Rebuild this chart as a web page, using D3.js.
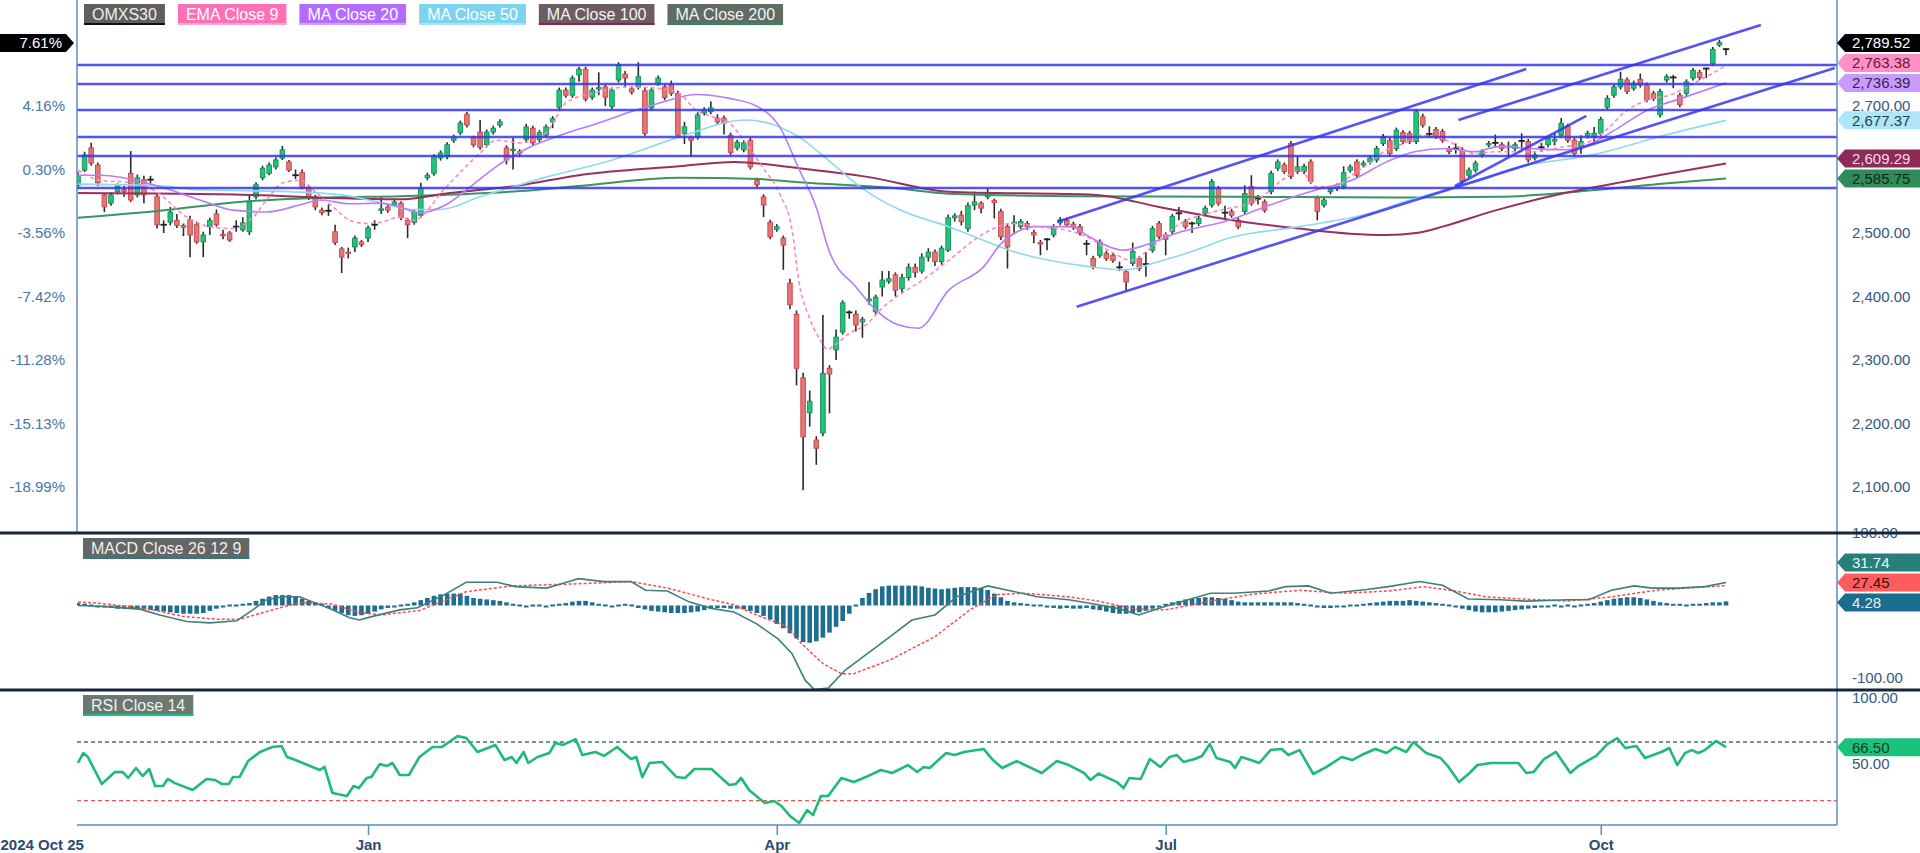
<!DOCTYPE html>
<html>
<head>
<meta charset="utf-8">
<script src="https://cdn.jsdelivr.net/npm/d3@7"></script>
<style>
  body { margin: 0; background: #fff; }
  svg { display: block; font-family: "Liberation Sans", Arial, sans-serif; }
</style>
</head>
<body>
<div id="chart"></div>
<script>
// ---- OMXS30 daily candles, 2024-10-25 .. 2025-10 (index = trading day) ----
const opens = [
  2575,2599,2634,2607,2560,2547,2565,2568,2594,2560,
  2584,2583,2557,2514,2517,2520,2512,2521,2513,2486,
  2510,2530,2498,2500,2509,2505,2502,2557,2587,2594,
  2604,2618,2612,2592,2595,2572,2557,2536,2536,2502,
  2475,2470,2478,2486,2492,2512,2536,2541,2545,2547,
  2520,2517,2528,2587,2594,2618,2620,2646,2658,2687,
  2650,2659,2639,2659,2670,2634,2630,2628,2647,2665,
  2647,2654,2675,2698,2725,2717,2749,2758,2714,2727,
  2730,2699,2741,2750,2727,2730,2724,2697,2736,2730,
  2733,2720,2657,2650,2651,2689,2691,2681,2681,2654,
  2634,2631,2646,2583,2557,2517,2506,2492,2421,2372,
  2272,2217,2174,2185,2287,2316,2344,2374,2372,2360,
  2393,2376,2415,2424,2434,2412,2430,2446,2440,2462,
  2470,2455,2473,2524,2528,2507,2544,2547,2557,2551,
  2534,2510,2515,2510,2515,2501,2485,2490,2497,2516,
  2520,2514,2510,2484,2460,2465,2468,2465,2447,2439,
  2452,2460,2450,2473,2515,2497,2502,2530,2518,2516,
  2515,2531,2544,2570,2531,2534,2520,2534,2573,2553,
  2549,2565,2602,2607,2641,2597,2597,2612,2555,2544,
  2565,2570,2573,2599,2612,2607,2612,2615,2641,2646,
  2633,2658,2657,2644,2683,2657,2663,2660,2633,2634,
  2631,2591,2599,2623,2639,2641,2639,2636,2633,2644,
  2644,2618,2636,2639,2645,2654,2668,2646,2636,2653,
  2652,2657,2698,2717,2730,2741,2728,2742,2733,2720,
  2686,2741,2745,2717,2720,2744,2753,2758,2767,2796,
  2789
];
const highs = [
  2596,2628,2642,2611,2563,2564,2578,2574,2629,2592,
  2590,2590,2561,2520,2541,2530,2515,2527,2518,2502,
  2524,2537,2505,2503,2520,2525,2560,2580,2606,2611,
  2619,2637,2615,2600,2600,2575,2560,2540,2545,2513,
  2478,2477,2496,2489,2512,2520,2557,2545,2553,2550,
  2524,2537,2579,2595,2624,2630,2643,2655,2677,2691,
  2653,2678,2663,2669,2679,2638,2650,2632,2672,2669,
  2662,2671,2684,2729,2729,2748,2762,2762,2729,2753,
  2734,2729,2769,2755,2731,2769,2728,2729,2748,2734,
  2740,2724,2675,2653,2690,2698,2707,2687,2685,2658,
  2647,2646,2650,2587,2561,2521,2514,2496,2428,2378,
  2280,2252,2180,2371,2292,2348,2394,2378,2378,2368,
  2423,2403,2440,2440,2438,2436,2452,2452,2468,2476,
  2474,2480,2529,2531,2535,2548,2565,2550,2570,2554,
  2538,2514,2528,2522,2519,2505,2489,2492,2514,2525,
  2524,2518,2514,2489,2464,2490,2472,2469,2455,2443,
  2485,2464,2470,2511,2519,2501,2530,2541,2522,2518,
  2527,2543,2585,2574,2543,2538,2524,2575,2591,2560,
  2553,2598,2616,2611,2645,2621,2609,2616,2559,2556,
  2573,2578,2605,2608,2616,2614,2622,2637,2656,2650,
  2666,2662,2661,2695,2688,2668,2667,2664,2637,2641,
  2635,2603,2614,2632,2645,2655,2643,2644,2643,2657,
  2648,2627,2642,2653,2657,2681,2672,2650,2654,2661,
  2667,2683,2717,2734,2754,2745,2740,2751,2737,2724,
  2727,2750,2749,2721,2742,2760,2757,2760,2793,2804,
  2791
];
const lows = [
  2570,2596,2606,2574,2533,2543,2561,2557,2549,2556,
  2547,2578,2507,2500,2512,2508,2495,2462,2483,2462,
  2497,2510,2490,2486,2502,2502,2497,2553,2583,2591,
  2600,2615,2596,2585,2569,2552,2536,2528,2527,2481,
  2437,2460,2470,2478,2486,2505,2530,2532,2541,2520,
  2492,2513,2524,2583,2590,2614,2616,2642,2654,2666,
  2635,2631,2635,2655,2666,2608,2600,2620,2643,2638,
  2643,2650,2665,2694,2713,2713,2738,2707,2710,2717,
  2700,2695,2737,2730,2718,2726,2653,2693,2732,2709,
  2716,2650,2640,2620,2647,2685,2687,2671,2655,2623,
  2630,2627,2600,2572,2525,2490,2502,2442,2380,2260,
  2095,2195,2135,2180,2216,2300,2340,2365,2345,2335,
  2387,2372,2400,2420,2400,2405,2425,2430,2436,2455,
  2448,2450,2470,2518,2512,2502,2536,2531,2553,2523,
  2489,2444,2500,2506,2505,2484,2465,2473,2493,2512,
  2509,2505,2496,2465,2443,2461,2456,2453,2440,2410,
  2448,2440,2431,2469,2490,2465,2498,2520,2506,2500,
  2511,2527,2540,2543,2520,2524,2506,2530,2543,2545,
  2532,2561,2598,2593,2585,2593,2593,2577,2520,2540,
  2561,2566,2569,2595,2587,2603,2608,2611,2637,2621,
  2629,2640,2640,2640,2666,2650,2648,2642,2624,2625,
  2577,2587,2595,2619,2635,2636,2629,2620,2629,2631,
  2611,2614,2628,2635,2638,2650,2642,2621,2625,2649,
  2641,2653,2694,2713,2726,2719,2724,2729,2706,2708,
  2682,2737,2728,2698,2716,2740,2741,2744,2763,2793,
  2780
];
const closes = [
  2591,2623,2610,2579,2541,2560,2574,2566,2552,2587,
  2560,2584,2513,2513,2533,2512,2509,2497,2486,2497,
  2520,2513,2496,2489,2510,2516,2549,2576,2602,2607,
  2615,2631,2599,2591,2572,2557,2541,2532,2535,2485,
  2462,2468,2492,2482,2508,2513,2538,2536,2549,2524,
  2513,2533,2571,2591,2620,2626,2639,2651,2673,2670,
  2639,2635,2659,2665,2675,2615,2632,2626,2667,2642,
  2658,2667,2680,2725,2717,2744,2758,2711,2725,2729,
  2714,2725,2765,2744,2722,2746,2657,2725,2744,2713,
  2720,2654,2667,2646,2686,2694,2697,2675,2673,2627,
  2643,2642,2604,2576,2544,2494,2510,2481,2387,2287,
  2179,2235,2161,2279,2278,2336,2390,2375,2355,2364,
  2396,2399,2426,2428,2410,2430,2446,2438,2462,2470,
  2455,2476,2524,2527,2518,2543,2549,2539,2562,2548,
  2494,2478,2517,2518,2510,2497,2483,2490,2510,2521,
  2513,2509,2500,2483,2447,2486,2460,2457,2446,2423,
  2471,2444,2451,2507,2494,2490,2526,2531,2510,2515,
  2523,2539,2581,2547,2532,2528,2510,2562,2547,2554,
  2536,2594,2612,2597,2589,2604,2605,2581,2534,2552,
  2569,2574,2595,2604,2591,2610,2618,2633,2652,2625,
  2662,2644,2644,2691,2670,2656,2652,2646,2628,2633,
  2581,2599,2610,2628,2641,2642,2633,2636,2639,2645,
  2615,2623,2635,2649,2647,2673,2646,2625,2644,2657,
  2657,2679,2712,2730,2742,2723,2736,2733,2710,2712,
  2723,2746,2745,2702,2738,2756,2745,2759,2789,2800,
  2789.52
];

// x-axis labels (trading-day index)
const tickIdx = [0, 44, 106, 165, 231];
const tickText = ["2024 Oct 25", "Jan", "Apr", "Jul", "Oct"];

// price axis
const priceTicks = [2100, 2200, 2300, 2400, 2500, 2600, 2700];
const pctLabels = ["-18.99%", "-15.13%", "-11.28%", "-7.42%", "-3.56%", "0.30%", "4.16%"];
const rightTicks = [2100, 2200, 2300, 2400, 2500, 2700];   // 2,600 sits under the badges
const lastPct = "7.61%";

// moving averages: [index, value]
const ema9 = [[0,2599],[3.3,2583],[8.4,2579],[11.9,2565],[16.5,2525],[20.5,2509],[23.5,2507],[26.6,2525],[28.6,2552],[31.1,2579],[33.6,2583],[36.2,2563],[38.7,2541],[41.2,2520],[43.7,2515],[46,2517],[48.8,2525],[50.8,2520],[55.9,2573],[61,2626],[63.4,2646],[67,2642],[71,2658],[74,2705],[78.1,2720],[83.6,2730],[88.7,2727],[91.2,2720],[93.7,2694],[96.3,2683],[98.8,2673],[101.3,2642],[103.8,2604],[106.4,2563],[108.4,2500],[109.4,2421],[110.9,2368],[112.4,2335],[113.7,2317],[114.9,2324],[117,2342],[119.5,2355],[122,2382],[124.5,2402],[128,2425],[132.1,2457],[137.4,2499],[141.7,2515],[145.4,2510],[149.7,2505],[153.4,2492],[157.1,2468],[159.8,2457],[162.9,2478],[167.2,2515],[171.4,2531],[174.6,2539],[177.8,2547],[180,2560],[182.6,2583],[185.3,2599],[187.9,2573],[190.6,2573],[193.2,2591],[195.9,2610],[198.5,2631],[201.2,2641],[203.9,2654],[207.6,2646],[211.8,2625],[215,2628],[220.5,2628],[225.6,2636],[228.6,2641],[232.1,2665],[234.6,2690],[238.2,2710],[241.7,2718],[243.7,2728],[246.8,2745],[250,2763.38]];
const ma20 = [[0,2591],[3.4,2591],[11.4,2576],[18.5,2552],[23.5,2536],[28.6,2533],[33.6,2544],[36.7,2552],[41.2,2546],[45.8,2547],[48.8,2541],[51.8,2532],[55.9,2545],[59.8,2575],[63.5,2605],[68.5,2635],[73.5,2655],[78.6,2672],[83.6,2690],[88.6,2706],[93.8,2718],[98.8,2712],[102.9,2700],[106.4,2668],[109.4,2600],[112,2540],[113.9,2473],[118,2415],[121,2379],[124.5,2355],[127.5,2350],[132.1,2410],[137.4,2447],[140.1,2484],[145.4,2510],[150.7,2510],[153.4,2494],[158.7,2473],[161.9,2481],[166.7,2500],[174.6,2520],[180,2541],[185.3,2560],[187.9,2568],[193.2,2583],[198.5,2612],[202.8,2628],[207.6,2633],[211.8,2628],[215.5,2636],[220.5,2633],[225.6,2631],[229.6,2641],[233.1,2662],[238.2,2694],[243.2,2712],[250,2736.39]];
const ma50 = [[0,2577],[11.4,2575],[18.5,2568],[32.1,2565],[40,2560],[45.8,2548],[50.8,2537],[55,2537],[61,2557],[71,2588],[81.1,2615],[91.2,2651],[101.3,2678],[106.4,2667],[109.4,2651],[113,2622],[119,2570],[125,2535],[132.1,2510],[142.8,2468],[153.4,2447],[158.7,2442],[164,2455],[169.3,2472],[174.6,2492],[185.3,2510],[195.9,2531],[201.2,2549],[209.2,2573],[214.5,2589],[215.5,2594],[230.6,2625],[240.7,2654],[250,2677.37]];
const ma100 = [[0,2563],[26.1,2560],[38.2,2555],[48.8,2553],[56.4,2563],[67,2575],[76,2591],[91.2,2605],[99.5,2612],[109.4,2602],[120,2588],[132.1,2565],[154.4,2560],[164,2541],[174.6,2521],[185.3,2507],[193,2499],[198.5,2497],[203,2500],[207,2510],[214.5,2534],[223,2557],[235.7,2583],[250,2609.29]];
const ma200 = [[0,2524],[12.4,2535],[24.5,2549],[38.2,2556],[48.8,2558],[67,2566],[76,2574],[91.2,2587],[103.3,2585],[109.4,2580],[124.5,2570],[132,2562],[150,2558],[175,2557],[200,2556],[215.5,2557],[230.6,2568],[240.7,2578],[250,2585.75]];

// drawn levels and channel lines
const levels = [2764.6, 2734.6, 2693.7, 2651.2, 2621.3, 2570.9];
const channels = [
  [148.6, 2517.8, 219.7, 2758.3],
  [151.5, 2383.9, 266.5, 2759.9],
  [209.4, 2678.0, 255.3, 2827.6],
  [208.9, 2574.0, 228.8, 2684.3]
];

// MACD (26,12,9)
const macdLine = [[0,0],[3.3,-1],[9.4,-5],[12.4,-13],[16.5,-22],[20,-24],[24.1,-21],[26.5,-6],[28.6,8],[31.1,12],[33.6,12],[35.6,5],[38.6,-6],[41.2,-17],[42.7,-20],[44.7,-15],[48.8,-6],[51.5,-3],[55.6,15],[58.9,32],[63.6,32],[66.4,26],[71.1,24],[74.5,33],[75.9,37],[79.8,33],[83.9,33],[86.1,21],[89.4,20],[92.7,5],[96.1,-4],[99.5,-9],[102.9,-25],[106.2,-46],[108.3,-66],[110.3,-103],[111.7,-116],[113.8,-114],[116.4,-89],[119.8,-66],[123.2,-43],[126.5,-20],[130,-13],[133.3,12],[138,27],[142.1,19],[145.5,12],[150.3,8],[154.8,1],[158.2,-5],[160.9,-13],[165,-1],[171.8,17],[175.2,17],[180.6,20],[183.2,26],[186.7,27],[190,17],[195.5,22],[198.8,26],[203.5,33],[207,28],[210.9,9],[215.8,8],[219.8,6],[225.9,8],[229.2,8],[232.6,21],[236.1,27],[238.8,24],[242.7,24],[246.8,26],[250,31.74]];
const signalLine = [[0,5],[3.3,3],[10.9,-5],[15.9,-15],[21.1,-19],[24.5,-19],[28,-10],[31.1,-2],[33.6,4],[38.6,2],[42.7,-10],[46.2,-13],[48.8,-10],[51.8,-7],[58.9,19],[65.8,27],[75.9,30],[83.9,33],[89.4,24],[96.1,8],[99.5,1],[102.9,-13],[107.6,-29],[109.7,-52],[113,-80],[115.8,-94],[117.7,-94],[123.2,-75],[130,-43],[135.3,-6],[139.4,15],[143.5,17],[150.3,12],[154.8,6],[160.3,-5],[165,-6],[171.8,6],[178.5,16],[185.3,21],[192,17],[198.8,20],[204.2,26],[208.9,20],[213.6,12],[219.1,9],[225.9,6],[232.6,12],[239.4,21],[244.1,24],[250,27.45]];
const macdHist = [
  2,1,0,-1,-1,-2,-3,-3,-3,-4,
  -4,-5,-6,-7,-8,-9,-10,-10,-10,-9,
  -6,-3,-1,0,0,1,2,5,8,11,
  13,13,13,11,8,5,3,1,-2,-6,
  -9,-12,-13,-12,-10,-7,-4,-2,-1,0,
  1,3,6,9,12,14,15,15,15,12,
  9,8,7,6,5,3,1,0,-1,0,
  0,-1,0,1,2,4,5,5,3,1,
  0,-1,0,1,0,-2,-4,-6,-7,-8,
  -9,-9,-9,-8,-7,-5,-3,-2,-2,-3,
  -3,-4,-6,-9,-13,-18,-24,-30,-37,-44,
  -49,-50,-48,-43,-36,-28,-20,-10,0,9,
  16,21,25,26,26,26,26,26,25,23,
  22,21,22,23,24,24,24,23,20,15,
  10,5,3,2,1,0,0,-1,-2,-3,
  -2,-3,-3,-2,-4,-5,-7,-9,-10,-10,
  -9,-8,-6,-3,-1,1,3,5,7,8,
  9,10,10,9,8,6,4,3,3,3,
  3,3,3,3,3,2,1,0,-1,-2,
  -2,-1,-1,0,0,1,2,3,4,5,
  5,5,6,5,4,3,2,1,0,-1,
  -3,-5,-7,-8,-8,-8,-7,-6,-5,-4,
  -3,-2,-1,-1,0,-1,0,-1,0,1,
  2,4,6,8,9,10,10,9,7,5,
  3,2,1,1,0,1,1,2,3,3,
  4.28
];

// RSI (14)
const rsiPts = [[0,55.7],[0.8,62.5],[1.5,59.8],[3.6,41.4],[5.6,49.5],[6.8,49.5],[7.6,45.5],[8.8,52.3],[9.8,46.8],[10.8,51.6],[11.7,40],[12.9,40],[13.6,44.8],[14.7,42],[17.4,37.3],[19.5,44.8],[20.8,44.1],[21.8,41.4],[22.9,41.4],[23.5,46.1],[24.5,46.1],[25.8,57],[27.6,63.2],[29.5,66.6],[30.9,67.3],[31.7,59.8],[32.6,58.4],[36.7,50.9],[37.4,53],[38.6,35.2],[40.8,33.2],[41.8,40],[42.6,38.6],[43.8,45.5],[44.5,46.1],[45.8,55],[46.8,53.6],[47.7,55.7],[48.8,47.5],[50.2,47.5],[51.8,59.8],[53.8,66.6],[55.2,66.6],[57.6,74],[58.9,72.7],[60.6,63.2],[63.3,68],[64.7,57.7],[65.8,59.8],[66.5,55.7],[67.6,63.2],[68.3,55.7],[69.7,59.8],[71.5,62.5],[72.4,69.3],[73.6,68],[75.5,72],[76.5,61.1],[78.5,63.2],[79.8,60.5],[81.8,66.6],[83.9,58.4],[84.7,59.8],[85.6,46.1],[86.7,55.7],[88.6,56.4],[90.8,46.1],[92.1,45.5],[93.5,51.6],[96.1,51.6],[98.8,40.7],[99.8,41.4],[100.6,45.5],[101.8,37.3],[104.2,28.4],[105.6,29.8],[106.7,26.4],[108,19.6],[109.4,14.8],[110.6,23.6],[111.5,20.2],[112.7,33.2],[113.8,33.2],[115.8,45.5],[117.7,42.7],[119.5,46.1],[121.8,50.9],[123.5,48.9],[125.9,54.3],[127.3,49.5],[128.3,53],[129.2,52.3],[131.7,62.5],[133,61.1],[134.4,63.2],[137.4,65.2],[138.8,57.7],[140.2,52.3],[142.4,57],[146.2,48.9],[148.5,57],[150.3,54.3],[152.6,48.9],[153.6,44.1],[154.8,48.5],[157.6,42.7],[158.6,38.6],[159.5,45.5],[161.2,44.8],[162.6,58.4],[164.2,53],[165.6,59.8],[166.7,61.1],[167.7,56.4],[169.4,58.4],[170.5,60.5],[171.7,68.6],[172.7,59.1],[174.8,56.4],[175.5,52.3],[176.5,59.8],[177.9,57.7],[179.2,55.7],[180.9,64.5],[182.6,65.2],[183.6,61.1],[185.3,64.5],[187.4,48.2],[189.4,53],[191.7,59.8],[193.3,57.7],[194.7,61.1],[196.8,65.2],[198.5,62.5],[199.8,66.6],[201.5,63.2],[202.6,70],[204.5,62.5],[206.7,59.1],[207.9,53],[209.5,42.7],[211.1,48.9],[212.3,54.3],[214.4,55.7],[218.5,55.7],[219.7,48.9],[220.8,49.5],[222.4,58.4],[224.2,63.2],[226.4,48.9],[227.6,53.6],[230.3,60.5],[232,68.6],[233.5,72.7],[234.7,65.9],[236.4,67.3],[237.7,59.1],[240.2,63.2],[241.4,65.9],[242.6,54.3],[243.8,62.5],[244.8,64.5],[245.8,62.5],[246.8,64.5],[248.5,70.7],[250,66.5]];
const rsiLevels = [70, 30];

// ---------------------------------------------------------------
const W = 1920, H = 853;
const L = 77, R = 1837;
const mainBot = 533, macdBot = 690, rsiBot = 825;
const axisCol = "#5b8db8", labelCol = "#33587e", pctCol = "#4479aa";

const svg = d3.select("#chart").append("svg")
  .attr("width", W).attr("height", H);

const defs = svg.append("defs");
function clip(id, y0, y1) {
  defs.append("clipPath").attr("id", id).append("rect")
    .attr("x", L).attr("y", y0).attr("width", R - L).attr("height", y1 - y0);
}
clip("cMain", 0, mainBot);
clip("cMacd", mainBot, macdBot);
clip("cRsi", macdBot, rsiBot);

// scales
const x = d3.scaleLinear().domain([0, 250]).range([78, 1726]);
const yP = d3.scaleLinear().domain([2100, 2700]).range([487, 106]);
const yM = d3.scaleLinear().domain([-100, 100]).range([678, 533]);
const yR = d3.scaleLinear().domain([30, 70]).range([800.7, 742]);

// ---- main pane ----
const gMain = svg.append("g").attr("clip-path", "url(#cMain)");

const candles = d3.range(closes.length).map(i => ({
  i: i, o: opens[i], h: highs[i], l: lows[i], c: closes[i]
}));

const bw = 4.6;
const cg = gMain.append("g");
cg.selectAll("line.wick").data(candles).enter().append("line")
  .attr("x1", d => x(d.i)).attr("x2", d => x(d.i))
  .attr("y1", d => yP(d.h)).attr("y2", d => yP(d.l))
  .attr("stroke", "#2b2b2b").attr("stroke-width", 1.6);

cg.selectAll("rect.body").data(candles.filter(d => Math.abs(d.c - d.o) >= 2)).enter().append("rect")
  .attr("x", d => x(d.i) - bw / 2)
  .attr("y", d => yP(Math.max(d.o, d.c)))
  .attr("width", bw)
  .attr("height", d => Math.max(1.5, yP(Math.min(d.o, d.c)) - yP(Math.max(d.o, d.c))))
  .attr("fill", d => d.c > d.o ? "#25c27c" : "#e57676")
  .attr("stroke", d => d.c > d.o ? "#138f57" : "#c94646")
  .attr("stroke-width", 0.9);

cg.selectAll("line.doji").data(candles.filter(d => Math.abs(d.c - d.o) < 2)).enter().append("line")
  .attr("x1", d => x(d.i) - 3.2).attr("x2", d => x(d.i) + 3.2)
  .attr("y1", d => yP(d.c)).attr("y2", d => yP(d.c))
  .attr("stroke", "#1f1f1f").attr("stroke-width", 1.8);

// moving averages
const lineP = d3.line().x(d => x(d[0])).y(d => yP(d[1])).curve(d3.curveMonotoneX);
const maDefs = [
  { data: ma200, color: "#3a9560", w: 2 },
  { data: ma100, color: "#9a2e5c", w: 2 },
  { data: ma50, color: "#8fd8f2", w: 1.6 },
  { data: ma20, color: "#b67cfb", w: 1.6 },
  { data: ema9, color: "#ff86c2", w: 1.6, dash: "4,3" }
];
maDefs.forEach(m => {
  gMain.append("path").datum(m.data).attr("d", lineP)
    .attr("fill", "none").attr("stroke", m.color).attr("stroke-width", m.w)
    .attr("stroke-dasharray", m.dash || null);
});

// horizontal levels and channel lines
const lvlCol = "#3535f5";
gMain.selectAll("line.lvl").data(levels).enter().append("line")
  .attr("x1", L).attr("x2", R)
  .attr("y1", d => yP(d)).attr("y2", d => yP(d))
  .attr("stroke", lvlCol).attr("stroke-width", 2.6).attr("stroke-opacity", 0.85);
gMain.selectAll("line.chan").data(channels).enter().append("line")
  .attr("x1", d => x(d[0])).attr("y1", d => yP(d[1]))
  .attr("x2", d => x(d[2])).attr("y2", d => yP(d[3]))
  .attr("stroke", lvlCol).attr("stroke-width", 2.6).attr("stroke-opacity", 0.85);

// ---- MACD pane ----
const gMacd = svg.append("g").attr("clip-path", "url(#cMacd)");
gMacd.selectAll("rect.h").data(macdHist).enter().append("rect")
  .attr("x", (d, i) => x(i) - 2.3)
  .attr("y", d => d >= 0 ? yM(d) - 1 : yM(0))
  .attr("width", 4.6)
  .attr("height", d => Math.max(2, Math.abs(yM(d) - yM(0)) + 1))
  .attr("fill", "#1d6e8f");
const lineM = d3.line().x(d => x(d[0])).y(d => yM(d[1]));
gMacd.append("path").datum(signalLine).attr("d", lineM)
  .attr("fill", "none").attr("stroke", "#ff4a4a").attr("stroke-width", 1.5)
  .attr("stroke-dasharray", "3,2");
gMacd.append("path").datum(macdLine).attr("d", lineM)
  .attr("fill", "none").attr("stroke", "#3e7f7b").attr("stroke-width", 1.6);

// ---- RSI pane ----
const gRsi = svg.append("g").attr("clip-path", "url(#cRsi)");
gRsi.selectAll("line.rl").data(rsiLevels).enter().append("line")
  .attr("x1", L).attr("x2", R)
  .attr("y1", d => yR(d)).attr("y2", d => yR(d))
  .attr("stroke", d => d === 70 ? "#46698c" : "#ff5050")
  .attr("stroke-width", 1.3).attr("stroke-dasharray", "4,3");
gRsi.append("path").datum(rsiPts)
  .attr("d", d3.line().x(d => x(d[0])).y(d => yR(d[1])))
  .attr("fill", "none").attr("stroke", "#1fbb76").attr("stroke-width", 2.6)
  .attr("stroke-linejoin", "round");

// ---- axes frame ----
svg.append("line").attr("x1", L).attr("x2", L).attr("y1", 0).attr("y2", mainBot)
  .attr("stroke", axisCol).attr("stroke-width", 1.5);
svg.append("line").attr("x1", R).attr("x2", R).attr("y1", 0).attr("y2", rsiBot)
  .attr("stroke", axisCol).attr("stroke-width", 1.5);
svg.append("line").attr("x1", L).attr("x2", R).attr("y1", rsiBot).attr("y2", rsiBot)
  .attr("stroke", axisCol).attr("stroke-width", 1.5);

// right price axis
const rAxis = svg.append("g").attr("transform", "translate(" + R + ",0)")
  .call(d3.axisRight(yP).tickValues(rightTicks).tickFormat(d3.format(",.2f")).tickSize(0).tickPadding(15));
rAxis.select(".domain").remove();
rAxis.selectAll("text").attr("font-size", 15).attr("fill", labelCol)
  .attr("font-family", "Liberation Sans, Arial, sans-serif");

// left percent axis
const lAxis = svg.append("g").attr("transform", "translate(" + L + ",0)")
  .call(d3.axisLeft(yP).tickValues(priceTicks).tickFormat((d, i) => pctLabels[i]).tickSize(0).tickPadding(12));
lAxis.select(".domain").remove();
lAxis.selectAll("text").attr("font-size", 15).attr("fill", pctCol)
  .attr("font-family", "Liberation Sans, Arial, sans-serif");

// MACD and RSI axis labels
const macdTicks = [100, -100];
svg.selectAll("text.mt").data(macdTicks).enter().append("text")
  .attr("x", 1852).attr("y", d => yM(d)).attr("dy", "0.35em")
  .attr("font-size", 15).attr("fill", labelCol)
  .text(d => d.toFixed(2));
const rsiTicks = [100, 50];
svg.selectAll("text.rt").data(rsiTicks).enter().append("text")
  .attr("x", 1852).attr("y", d => yR(d) - (d === 50 ? 8 : 0)).attr("dy", "0.35em")
  .attr("font-size", 15).attr("fill", labelCol)
  .text(d => d.toFixed(2));

// bottom time axis
const xAxis = svg.append("g").attr("transform", "translate(0," + rsiBot + ")")
  .call(d3.axisBottom(x).tickValues(tickIdx).tickFormat((d, i) => tickText[i]).tickSize(10).tickPadding(4));
xAxis.select(".domain").remove();
xAxis.selectAll("line").attr("stroke", axisCol).attr("stroke-width", 1.5);
xAxis.selectAll("text").attr("font-size", 15).attr("font-weight", "bold").attr("fill", "#2c4c70")
  .attr("font-family", "Liberation Sans, Arial, sans-serif");
xAxis.selectAll(".tick").filter(d => d === 0).each(function () {
  d3.select(this).select("line").remove();
  d3.select(this).select("text").attr("text-anchor", "start").attr("x", -78);
});

// pane dividers
[mainBot, macdBot].forEach(yy => {
  svg.append("line").attr("x1", 0).attr("x2", W).attr("y1", yy).attr("y2", yy)
    .attr("stroke", "#15263a").attr("stroke-width", 3);
});

// ---- value badges on the right ----
function spread(list, gap) {
  const s = list.slice().sort((a, b) => b.y - a.y);
  let prev = Infinity;
  s.forEach(b => { b.y = Math.min(b.y, prev - gap); prev = b.y; });
  return list;
}
function drawBadge(b) {
  const h = 9;
  svg.append("path")
    .attr("d", "M" + R + "," + b.y + " L" + (R + 8) + "," + (b.y - h) + " L" + W + "," + (b.y - h) +
      " L" + W + "," + (b.y + h) + " L" + (R + 8) + "," + (b.y + h) + " Z")
    .attr("fill", b.bg);
  svg.append("text").attr("x", 1852).attr("y", b.y).attr("dy", "0.36em")
    .attr("font-size", 15).attr("fill", b.fg).text(b.text);
}
const fmt2 = d3.format(",.2f");
const last = a => a[a.length - 1][1];
const priceBadges = spread([
  { v: closes[closes.length - 1], bg: "#000000", fg: "#ffffff" },
  { v: last(ema9), bg: "#ff8fc6", fg: "#5c1d38" },
  { v: last(ma20), bg: "#c89cff", fg: "#33244f" },
  { v: last(ma50), bg: "#aee6f7", fg: "#213f4d" },
  { v: last(ma100), bg: "#8d2a57", fg: "#f3d9e5" },
  { v: last(ma200), bg: "#2f8c58", fg: "#0f2718" }
].map(b => Object.assign(b, { y: yP(b.v), text: fmt2(b.v) })), 20);
priceBadges.forEach(drawBadge);

const macdBadges = spread([
  { v: last(macdLine), bg: "#277f7a", fg: "#eaf5f4" },
  { v: last(signalLine), bg: "#ff5d5d", fg: "#3b0b0b" },
  { v: macdHist[macdHist.length - 1], bg: "#1b6d8e", fg: "#eaf2f6" }
].map(b => Object.assign(b, { y: yM(b.v), text: fmt2(b.v) })), 20);
macdBadges.forEach(drawBadge);

drawBadge({ y: yR(last(rsiPts)), bg: "#1cc27c", fg: "#0b3a22", text: fmt2(last(rsiPts)) });

// left % badge, follows the close badge
const cy = priceBadges[0].y;
svg.append("path")
  .attr("d", "M0," + (cy - 9) + " L66," + (cy - 9) + " L74," + cy + " L66," + (cy + 9) + " L0," + (cy + 9) + " Z")
  .attr("fill", "#000");
svg.append("text").attr("x", 62).attr("y", cy).attr("dy", "0.36em").attr("text-anchor", "end")
  .attr("font-size", 15).attr("fill", "#fff").text(lastPct);

// ---- legend boxes ----
function legend(items, x0, y0) {
  let xx = x0;
  items.forEach(it => {
    const g = svg.append("g");
    const rect = g.append("rect").attr("y", y0).attr("height", 21).attr("fill", it.bg);
    const t = g.append("text").attr("x", xx + 8).attr("y", y0 + 16)
      .attr("font-size", 16).attr("fill", it.fg).text(it.name);
    const w = t.node().getComputedTextLength() + 16;
    rect.attr("x", xx).attr("width", w);
    g.append("rect").attr("x", xx).attr("y", y0 + 19).attr("width", w).attr("height", 2).attr("fill", it.line);
    xx += w + 13;
  });
}
legend([
  { name: "OMXS30", bg: "#5f5f5f", fg: "#efefef", line: "#111111" },
  { name: "EMA Close 9", bg: "#ff6fb5", fg: "#ffffff", line: "#ffa6d2" },
  { name: "MA Close 20", bg: "#b46bff", fg: "#ffffff", line: "#cfa3ff" },
  { name: "MA Close 50", bg: "#7dd2f0", fg: "#ffffff", line: "#a9e4f7" },
  { name: "MA Close 100", bg: "#6d5d61", fg: "#f3f3f3", line: "#8e1f4f" },
  { name: "MA Close 200", bg: "#5e6c64", fg: "#f3f3f3", line: "#2e8b57" }
], 84, 4);
legend([{ name: "MACD Close 26 12 9", bg: "#666666", fg: "#f0f0f0", line: "#277f7a" }], 83, 538);
legend([{ name: "RSI Close 14", bg: "#6b786f", fg: "#f0f0f0", line: "#19c37d" }], 83, 695);
</script>
</body>
</html>
